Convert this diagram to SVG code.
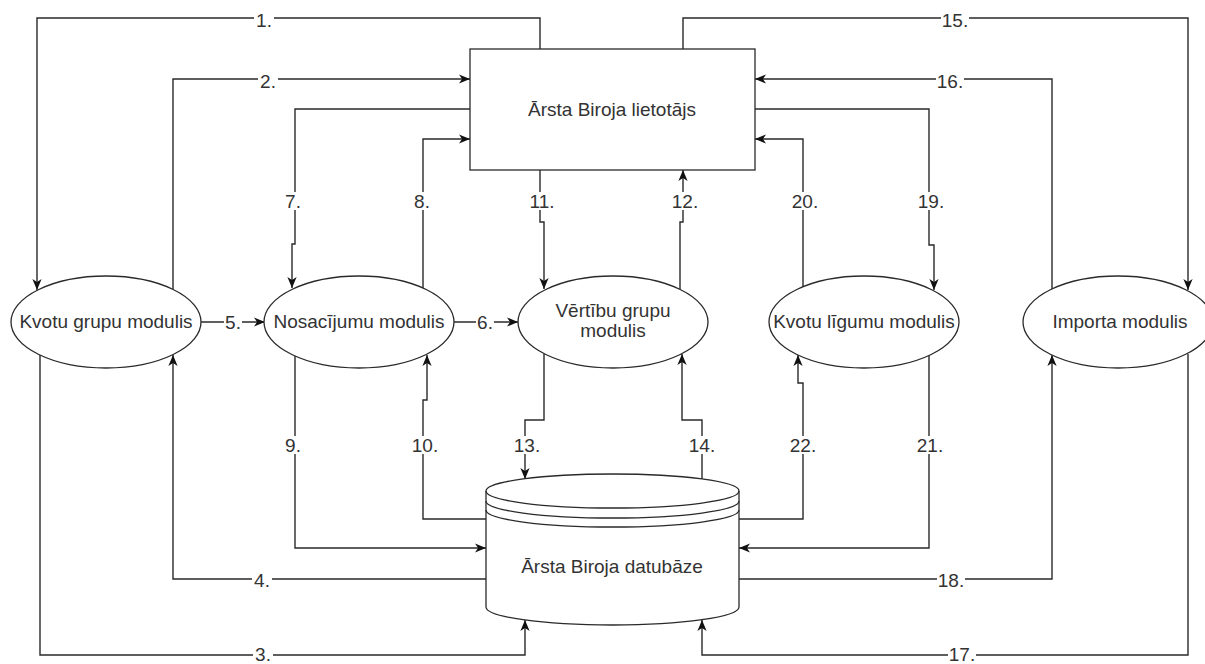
<svg xmlns="http://www.w3.org/2000/svg" width="1205" height="664" viewBox="0 0 1205 664">
<style>
.ln{fill:none;stroke:#2a2a2a;stroke-width:1.4}
.nd{fill:#fff;stroke:#2a2a2a;stroke-width:1.3}
.t{font-family:"Liberation Sans",Arial,sans-serif;font-size:19px;fill:#333;text-anchor:middle}
.bg{fill:#fff}
</style>
<defs>
<marker id="arr" viewBox="0 0 10 10" markerWidth="11" markerHeight="11" refX="10" refY="5" orient="auto" markerUnits="userSpaceOnUse">
<path d="M0,0.8 L10,5 L0,9.2 L2.8,5 z" fill="#111"/>
</marker>
</defs>
<rect width="1205" height="664" fill="#fff"/>

<g id="connectors">
<path class="ln" marker-end="url(#arr)" d="M540,49 V18 H37 V290"/>
<path class="ln" marker-end="url(#arr)" d="M173,289 V79 H470"/>
<path class="ln" marker-end="url(#arr)" d="M40,355 V655 H525 V620"/>
<path class="ln" marker-end="url(#arr)" d="M486,579 H173 V355"/>
<path class="ln" marker-end="url(#arr)" d="M201,322 H265"/>
<path class="ln" marker-end="url(#arr)" d="M454,322 H518"/>
<path class="ln" marker-end="url(#arr)" d="M470,109 H295 V244 H292 V288"/>
<path class="ln" marker-end="url(#arr)" d="M423,288 V139 H470"/>
<path class="ln" marker-end="url(#arr)" d="M295,356 V548 H486"/>
<path class="ln" marker-end="url(#arr)" d="M486,519 H423 V400 H427 V355"/>
<path class="ln" marker-end="url(#arr)" d="M540,170 V222 H544 V289"/>
<path class="ln" marker-end="url(#arr)" d="M680,289 V222 H683 V170"/>
<path class="ln" marker-end="url(#arr)" d="M544,354 V420 H525 V479"/>
<path class="ln" marker-end="url(#arr)" d="M702,479 V420 H682 V354"/>
<path class="ln" marker-end="url(#arr)" d="M683,49 V18 H1188 V290"/>
<path class="ln" marker-end="url(#arr)" d="M1052,289 V79 H755"/>
<path class="ln" marker-end="url(#arr)" d="M1188,354 V655 H702 V620"/>
<path class="ln" marker-end="url(#arr)" d="M739,579 H1052 V355"/>
<path class="ln" marker-end="url(#arr)" d="M755,109 H929 V245 H934 V290"/>
<path class="ln" marker-end="url(#arr)" d="M803,287 V139 H755"/>
<path class="ln" marker-end="url(#arr)" d="M929,355 V548 H739"/>
<path class="ln" marker-end="url(#arr)" d="M739,519 H803 V383 H798 V355"/>

<g id="labels">
<rect class="bg" x="254" y="10" width="20" height="18"/><text class="t" x="264" y="27">1.</text>
<rect class="bg" x="258" y="71" width="20" height="18"/><text class="t" x="268" y="88">2.</text>
<rect class="bg" x="253" y="647" width="20" height="17"/><text class="t" x="263" y="661">3.</text>
<rect class="bg" x="252" y="571" width="20" height="18"/><text class="t" x="262" y="587">4.</text>
<rect class="bg" x="224" y="314" width="18" height="17"/><text class="t" x="233" y="329">5.</text>
<rect class="bg" x="476" y="314" width="18" height="17"/><text class="t" x="485" y="329">6.</text>
<rect class="bg" x="283" y="192" width="20" height="18"/><text class="t" x="293" y="208">7.</text>
<rect class="bg" x="412" y="192" width="20" height="18"/><text class="t" x="422" y="208">8.</text>
<rect class="bg" x="283" y="436" width="20" height="18"/><text class="t" x="293" y="452">9.</text>
<rect class="bg" x="411" y="436" width="28" height="18"/><text class="t" x="425" y="452">10.</text>
<rect class="bg" x="528" y="192" width="28" height="18"/><text class="t" x="542" y="208">11.</text>
<rect class="bg" x="671" y="192" width="28" height="18"/><text class="t" x="685" y="208">12.</text>
<rect class="bg" x="513" y="436" width="28" height="18"/><text class="t" x="527" y="452">13.</text>
<rect class="bg" x="688" y="436" width="28" height="18"/><text class="t" x="702" y="452">14.</text>
<rect class="bg" x="941" y="10" width="28" height="18"/><text class="t" x="955" y="27">15.</text>
<rect class="bg" x="936" y="71" width="28" height="18"/><text class="t" x="950" y="88">16.</text>
<rect class="bg" x="948" y="647" width="28" height="17"/><text class="t" x="962" y="661">17.</text>
<rect class="bg" x="937" y="571" width="28" height="18"/><text class="t" x="951" y="587">18.</text>
<rect class="bg" x="917" y="192" width="28" height="18"/><text class="t" x="931" y="208">19.</text>
<rect class="bg" x="791" y="192" width="28" height="18"/><text class="t" x="805" y="208">20.</text>
<rect class="bg" x="916" y="436" width="28" height="18"/><text class="t" x="930" y="452">21.</text>
<rect class="bg" x="789" y="436" width="28" height="18"/><text class="t" x="803" y="452">22.</text>
</g>
</g>

<g id="user">
<rect class="nd" x="470" y="49" width="285" height="121"/>
<text class="t" x="612" y="116">Ārsta Biroja lietotājs</text>
</g>

<g id="kvotu-grupu">
<ellipse class="nd" cx="106" cy="322" rx="95" ry="46"/>
<text class="t" x="106" y="328">Kvotu grupu modulis</text>
</g>

<g id="nosacijumu">
<ellipse class="nd" cx="359" cy="322" rx="95" ry="46"/>
<text class="t" x="359" y="328">Nosacījumu modulis</text>
</g>

<g id="vertibu">
<ellipse class="nd" cx="613" cy="322" rx="95" ry="46"/>
<text class="t" x="613" y="317">Vērtību grupu</text>
<text class="t" x="613" y="337">modulis</text>
</g>

<g id="kvotu-ligumu">
<ellipse class="nd" cx="864" cy="322" rx="95" ry="46"/>
<text class="t" x="864" y="328">Kvotu līgumu modulis</text>
</g>

<g id="importa">
<ellipse class="nd" cx="1118" cy="322" rx="95" ry="46"/>
<text class="t" x="1120" y="328">Importa modulis</text>
</g>

<g id="database">
<path class="nd" d="M486,491 V607 A126.5,18 0 0 0 739,607 V491 A126.5,17 0 0 0 486,491 Z"/>
<path class="ln" style="stroke-width:1.3" d="M486,491 A126.5,17 0 0 0 739,491"/>
<path class="ln" style="stroke-width:1.3" d="M486,501 A126.5,17 0 0 0 739,501"/>
<path class="ln" style="stroke-width:1.3" d="M486,510 A126.5,17 0 0 0 739,510"/>
<text class="t" x="612" y="573">Ārsta Biroja datubāze</text>
</g>
</svg>
